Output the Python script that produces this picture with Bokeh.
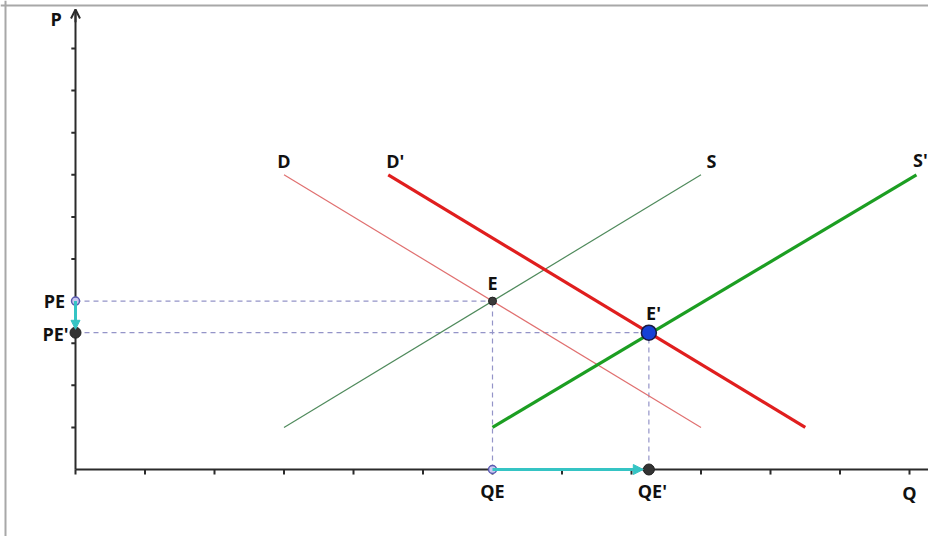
from bokeh.plotting import figure
from bokeh.models import Range1d, Arrow, NormalHead, OpenHead, Span
from bokeh.core.properties import value
from bokeh.embed import file_html
from bokeh.resources import INLINE

# ---------------- data ----------------
x_ticks = [0, 1, 2, 3, 4, 5, 6, 7, 8, 9, 10, 11, 12]
y_ticks = [1, 2, 3, 4, 5, 6, 7, 8, 9, 10]

D_x = [3.0, 9.0]
D_y = [7.0, 1.0]
S_x = [3.0, 9.0]
S_y = [1.0, 7.0]
D2_x = [4.5, 10.5]
D2_y = [7.0, 1.0]
S2_x = [6.0, 12.1]
S2_y = [1.0, 7.0]

QE, PE = 6.0, 4.0        # equilibrium E
QE2, PE2 = 8.25, 3.25    # equilibrium E'

curve_names = ["D", "D'", "S", "S'"]

# ---------------- layout (pixel mapping of the reference) ----------------
W, H = 928, 536
OFF = 0                  # page offset of the figure
X0, Y0 = 75.0, 469.0     # pixel of the origin in the reference
SX, SY = 69.5, 42.1      # pixels per unit
x_range = Range1d((OFF - X0) / SX, (OFF + W - X0) / SX)
y_range = Range1d((Y0 - OFF - H) / SY, (Y0 - OFF) / SY)

p = figure(width=W, height=H, x_range=x_range, y_range=y_range,
           x_axis_type=None, y_axis_type=None, toolbar_location=None,
           output_backend="svg", min_border=0, outline_line_color=None,
           background_fill_color="white", border_fill_color="white")

# frame border (left / top)
p.add_layout(Span(location=(5 - X0) / SX, dimension="height",
                  line_color="#a8a8a8", line_width=2))
p.add_layout(Span(location=(Y0 - 5) / SY, dimension="width",
                  line_color="#a8a8a8", line_width=2))

AX = "#2b2b2b"
top = (Y0 - 9) / SY
# axes
p.line([0, 0], [0, top], line_color=AX, line_width=2)
p.add_layout(Arrow(end=OpenHead(size=9, line_color=AX, line_width=2),
                   x_start=0, y_start=top - 0.3, x_end=0, y_end=top,
                   line_color=AX, line_width=2))
p.line([0, x_range.end], [0, 0], line_color=AX, line_width=2)

# ticks
p.segment(x0=x_ticks, y0=[0] * len(x_ticks), x1=x_ticks, y1=[-0.12] * len(x_ticks),
          line_color=AX, line_width=2)
p.segment(x0=[0] * len(y_ticks), y0=y_ticks, x1=[-0.06] * len(y_ticks), y1=y_ticks,
          line_color=AX, line_width=2)

# dashed guides
GUIDE = "#9494c8"
p.line([0, QE], [PE, PE], line_color=GUIDE, line_width=1.2, line_dash="5 4")
p.line([QE, QE], [0, PE], line_color=GUIDE, line_width=1.2, line_dash="5 4")
p.line([0, QE2], [PE2, PE2], line_color=GUIDE, line_width=1.2, line_dash="5 4")
p.line([QE2, QE2], [0, PE2], line_color=GUIDE, line_width=1.2, line_dash="5 4")

# curves
p.line(D_x, D_y, line_color="#e07070", line_width=1.2)
p.line(S_x, S_y, line_color="#4f8a5c", line_width=1.2)
p.line(D2_x, D2_y, line_color="#e01e1e", line_width=3.2)
p.line(S2_x, S2_y, line_color="#1c9e22", line_width=3.2)

# cyan shift arrows
CYAN = "#35c4c4"
p.add_layout(Arrow(end=NormalHead(size=9, fill_color=CYAN, line_color=CYAN),
                   x_start=0, y_start=PE, x_end=0, y_end=PE2 + 0.08,
                   line_color=CYAN, line_width=3))
p.add_layout(Arrow(end=NormalHead(size=10, fill_color=CYAN, line_color=CYAN),
                   x_start=QE, y_start=0, x_end=QE2 - 0.08, y_end=0,
                   line_color=CYAN, line_width=3))

# points
p.scatter([QE, 0], [0, PE], size=8, fill_color="#c9c9f0", line_color="#5a5ab0", line_width=1.5)
p.scatter([QE2, 0], [0, PE2], size=11, fill_color="#333333", line_color="#222222")
p.scatter([QE], [PE], size=8, fill_color="#3a3a3a", line_color="#222222")
p.scatter([QE2], [PE2], size=15, fill_color="#1541d6", line_color="#1a1a40", line_width=1.5)

# labels
FONT = value("Open Sans")
def lab(x, y, t, align="center"):
    p.text([x], [y], text=[t], text_font=FONT, text_font_style="bold",
           text_font_size="18px", text_color="#111111", text_align=align,
           text_baseline="middle")

lab(D_x[0], D_y[0] + 0.33, curve_names[0])
lab(D2_x[0] - 0.03, D2_y[0] + 0.33, curve_names[1], "left")
lab(S_x[1] + 0.15, S_y[1] + 0.33, curve_names[2])
lab(S2_x[1] - 0.05, S2_y[1] + 0.35, curve_names[3], "left")
lab(QE, PE + 0.44, "E")
lab(QE2 - 0.04, PE2 + 0.47, "E'", "left")
lab(-0.15, PE, "PE", "right")
lab(-0.1, PE2 - 0.02, "PE'", "right")
lab(QE, -0.52, "QE")
lab(QE2 + 0.05, -0.52, "QE'")
lab(-0.28, (Y0 - 18) / SY, "P")
lab(12.0, -0.55, "Q")

open("out.html", "w").write(file_html(p, INLINE))
